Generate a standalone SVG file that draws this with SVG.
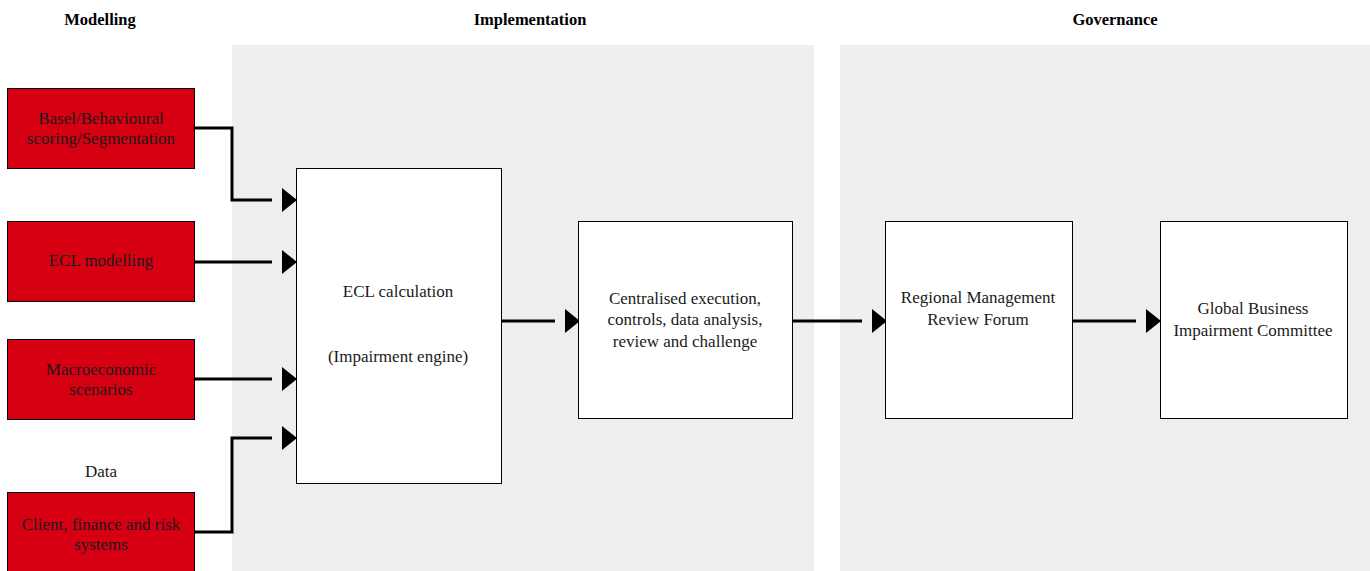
<svg xmlns="http://www.w3.org/2000/svg" width="1370" height="571" viewBox="0 0 1370 571">
<style>
text{font-family:"Liberation Serif","Times New Roman",serif;font-size:17px;fill:#1a1a1a;text-anchor:middle}
.h{font-weight:bold;fill:#000;font-size:16.5px}
.red{fill:#d70012;stroke:#000;stroke-width:1}
.wb{fill:#fff;stroke:#000;stroke-width:1}
.panel{fill:#eeeeee}
.c{fill:none;stroke:#000;stroke-width:3;marker-end:url(#arr)}
</style>
<defs>
<marker id="arr" markerUnits="userSpaceOnUse" markerWidth="30" markerHeight="26" viewBox="0 0 30 26" refX="0" refY="13" orient="auto">
<path d="M10,1 L25,13 L10,25 z" fill="#000"/>
</marker>
</defs>
<rect width="1370" height="571" fill="#fff"/>
<g id="panels">
<rect class="panel" x="232" y="45" width="582" height="526"/>
<rect class="panel" x="840" y="45" width="530" height="526"/>
</g>
<g id="headers">
<text class="h" x="100" y="25">Modelling</text>
<text class="h" x="530" y="25">Implementation</text>
<text class="h" x="1115" y="25">Governance</text>
</g>
<g id="connectors">
<path class="c" d="M194,128 H232 V200 H272"/>
<path class="c" d="M194,262 H272"/>
<path class="c" d="M194,379 H272"/>
<path class="c" d="M194,532 H232 V438 H272"/>
<path class="c" d="M501,321 H555"/>
<path class="c" d="M792,321 H862"/>
<path class="c" d="M1072,321 H1136"/>
</g>
<g id="basel">
<rect class="red" x="7.5" y="88.5" width="187" height="80"/>
<text x="101" y="124">Basel/Behavioural</text>
<text x="101" y="144">scoring/Segmentation</text>
</g>
<g id="ecl-modelling">
<rect class="red" x="7.5" y="221.5" width="187" height="80"/>
<text x="101" y="266">ECL modelling</text>
</g>
<g id="macro">
<rect class="red" x="7.5" y="339.5" width="187" height="80"/>
<text x="101" y="375">Macroeconomic</text>
<text x="101" y="395">scenarios</text>
</g>
<g id="data-label">
<text x="101" y="477">Data</text>
</g>
<g id="client">
<rect class="red" x="7.5" y="492.5" width="187" height="80"/>
<text x="101" y="530">Client, finance and risk</text>
<text x="101" y="550">systems</text>
</g>
<g id="ecl-calc">
<rect class="wb" x="296.5" y="168.5" width="205" height="315"/>
<text x="398" y="297">ECL calculation</text>
<text x="398" y="362">(Impairment engine)</text>
</g>
<g id="centralised">
<rect class="wb" x="578.5" y="221.5" width="214" height="197"/>
<text x="685" y="304">Centralised execution,</text>
<text x="685" y="325">controls, data analysis,</text>
<text x="685" y="347">review and challenge</text>
</g>
<g id="regional">
<rect class="wb" x="885.5" y="221.5" width="187" height="197"/>
<text x="978" y="303">Regional Management</text>
<text x="978" y="325">Review Forum</text>
</g>
<g id="global">
<rect class="wb" x="1160.5" y="221.5" width="187" height="197"/>
<text x="1253" y="314">Global Business</text>
<text x="1253" y="336">Impairment Committee</text>
</g>
</svg>
